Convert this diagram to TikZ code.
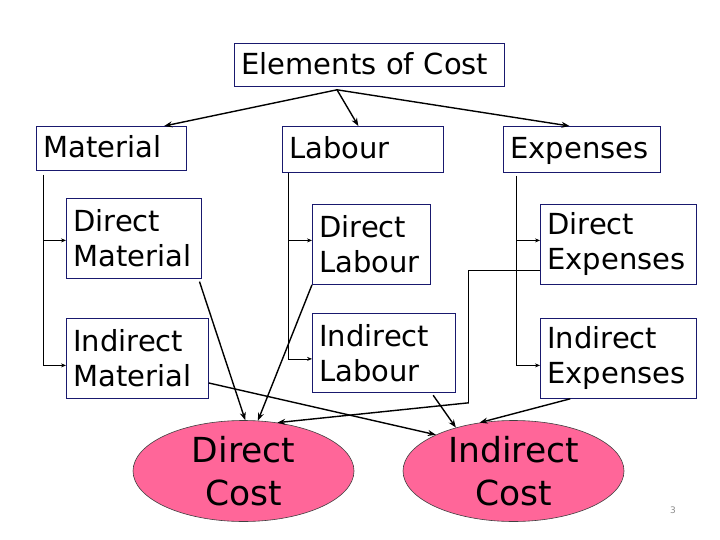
\documentclass[tikz,border=0pt]{standalone}
\usepackage{fontspec}
\setmainfont{DejaVu Sans}
\usetikzlibrary{shapes.geometric, positioning, arrows.meta, calc}
\definecolor{boxline}{RGB}{25,25,110}
\definecolor{costpink}{RGB}{255,102,153}

\begin{document}
\begin{tikzpicture}[x=1pt, y=-1pt,
    element/.style={rectangle, draw=boxline, line width=0.8pt, align=left, anchor=north west, inner xsep=7pt, inner ysep=2pt, font=\fontsize{29}{35}\selectfont},
    oneline/.style={text height=22pt, text depth=3pt},
    cost/.style={ellipse, draw=black!75, line width=0.6pt, fill=costpink, minimum width=221pt, minimum height=101pt, inner sep=0pt, align=center, font=\fontsize{34.5}{43}\selectfont},
    pagenum/.style={text=black!45, font=\fontsize{9}{10}\selectfont},
    branch/.style={line width=0.7pt, -{Stealth[length=5pt, width=4pt]}},
    link/.style={line width=0.7pt},
    arrow/.style={line width=1.4pt, -{Stealth[length=8pt, width=6pt]}},
]
\useasboundingbox (0,0) rectangle (720,540);

% Top level
\node[element, oneline, text width=256pt, minimum height=43pt] (elements) at (234,43) {Elements of Cost};
\coordinate (fork) at ($(elements.south west)+(103,3)$);

% Second level
\node[element, oneline, text width=136pt, minimum height=44pt] (material) at (36,126) {Material};
\node[element, oneline, text width=147pt, minimum height=46pt] (labour) at (282,126) {Labour};
\node[element, oneline, text width=143pt, minimum height=46pt] (expenses) at (503,126) {Expenses};

% Third level
\node[element, text width=121pt, minimum height=80pt] (dirMaterial) at (66,198) {Direct\\Material};
\node[element, text width=128pt, minimum height=80pt] (indirMaterial) at (66,318) {Indirect\\Material};
\node[element, text width=104pt, minimum height=80pt] (dirLabour) at (312,204) {Direct\\Labour};
\node[element, text width=129pt, minimum height=79pt] (indirLabour) at (312,313) {Indirect\\Labour};
\node[element, text width=142pt, minimum height=80pt] (dirExpenses) at (540,204) {Direct\\Expenses};
\node[element, text width=142pt, minimum height=80pt] (indirExpenses) at (540,318) {Indirect\\Expenses};

% Costs
\node[cost] (dirCost) at (243.5,471) {Direct\\Cost};
\node[cost] (indirCost) at (513.5,471) {Indirect\\Cost};
\node[pagenum] (page) at (673,510) {3};

% Arrows from Elements of Cost
\draw[arrow] (fork) -- (material.23);
\draw[arrow] (fork) -- (labour.101);
\draw[arrow] (fork) -- (expenses.118);

% Branches
\draw[branch] ($(material.south west)+(7,4)$) |- ($(dirMaterial.west)+(0,2)$);
\draw[branch] ($(material.south west)+(7,4)$) |- ($(indirMaterial.west)+(0,7)$);
\draw[branch] ($(labour.south west)+(6,0)$) |- ($(dirLabour.west)+(0,-4)$);
\draw[branch] ($(labour.south west)+(6,0)$) |- ($(indirLabour.west)+(0,6)$);
\draw[branch] ($(expenses.south west)+(13,3)$) |- ($(dirExpenses.west)+(0,-4)$);
\draw[branch] ($(expenses.south west)+(13,3)$) |- ($(indirExpenses.west)+(0,7)$);

% Arrows to Direct Cost
\coordinate (bend) at ($(indirLabour.south east)+(13,10)$);
\draw[arrow, shorten <=3pt] (dirMaterial.-32) -- (dirCost.88);
\draw[arrow] (dirLabour.south west) -- (dirCost.74);
\draw[link] ($(dirExpenses.south west)+(0,-14)$) -| (bend);
\draw[arrow] (bend) -- (dirCost.55);

% Arrows to Indirect Cost
\draw[arrow] (indirMaterial.-19) -- (indirCost.155);
\draw[arrow, shorten <=3pt] (indirLabour.-40) -- (indirCost.143);
\draw[arrow] (indirExpenses.-140) -- (indirCost.125);

\end{tikzpicture}
\end{document}
